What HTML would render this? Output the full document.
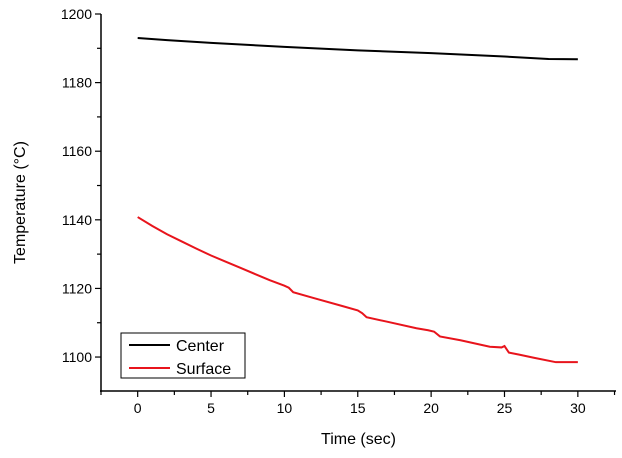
<!DOCTYPE html>
<html><head><meta charset="utf-8"><style>
body{margin:0;background:#fff;width:622px;height:453px;overflow:hidden}
text{font-family:"Liberation Sans",Arial,sans-serif;fill:#000}
</style></head><body>
<svg id="chart" width="622" height="453" xmlns="http://www.w3.org/2000/svg"></svg>
<script>
const xTicks=[0,5,10,15,20,25,30];
const yTicks=[1100,1120,1140,1160,1180,1200];
const timeC=[0,2,5,10,15,20,25,28,30];
const center=[1193,1192.4,1191.6,1190.4,1189.4,1188.6,1187.6,1186.9,1186.8];
const timeS=[0,1,2,3,4,5,6,7,8,9,10,10.3,10.6,12,14,15,15.3,15.6,17,19,19.8,20.2,20.6,22,24,24.8,25,25.3,26,27,28.5,30];
const surface=[1140.8,1138.2,1135.8,1133.7,1131.6,1129.6,1127.8,1126,1124.2,1122.4,1120.8,1120.2,1118.9,1117.2,1114.8,1113.6,1112.8,1111.6,1110.3,1108.4,1107.8,1107.4,1106,1104.9,1103,1102.8,1103.2,1101.3,1100.7,1099.8,1098.5,1098.5];
const X0=-2.5,X1=32.6,Y0=1090.1,Y1=1200;
const L=101,R=616,T=14,B=391;
const xs=v=>L+(v-X0)/(X1-X0)*(R-L);
const ys=v=>B-(v-Y0)/(Y1-Y0)*(B-T);
const svg=document.getElementById('chart');
const NS='http://www.w3.org/2000/svg';
function mk(t,a,p){const e=document.createElementNS(NS,t);for(const k in a)e.setAttribute(k,a[k]);(p||svg).appendChild(e);return e;}
let e;
e=mk('line',{x1:L,y1:T,x2:L,y2:B+1,stroke:'#000','stroke-width':1.5});


e=mk('line',{x1:L-1,y1:B,x2:R,y2:B,stroke:'#000','stroke-width':1.5});


xTicks.forEach(v=>{
 mk('line',{x1:xs(v),y1:B,x2:xs(v),y2:B+6,stroke:'#000','stroke-width':1.2});
 mk('line',{x1:xs(v+2.5),y1:B,x2:xs(v+2.5),y2:B+4,stroke:'#000','stroke-width':1.2});
 e=mk('text',{x:xs(v),y:B+22,'text-anchor':'middle','font-size':14});e.textContent=v;
 
 
});
mk('line',{x1:xs(-2.5),y1:B,x2:xs(-2.5),y2:B+4,stroke:'#000','stroke-width':1.2});
yTicks.forEach(v=>{
 mk('line',{x1:L-6,y1:ys(v),x2:L,y2:ys(v),stroke:'#000','stroke-width':1.2});
 if(v<1200)mk('line',{x1:L-4,y1:ys(v+10),x2:L,y2:ys(v+10),stroke:'#000','stroke-width':1.2});
 e=mk('text',{x:L-9,y:ys(v)+5,'text-anchor':'end','font-size':14});e.textContent=v;
 
 
});
e=mk('text',{x:(L+R)/2,y:444,'text-anchor':'middle','font-size':16});e.textContent='Time (sec)';


e=mk('text',{x:0,y:0,'text-anchor':'middle','font-size':16,transform:`translate(25,${(T+B)/2}) rotate(-90)`});e.textContent='Temperature (°C)';


e=mk('polyline',{points:timeC.map((t,i)=>xs(t)+','+ys(center[i])).join(' '),fill:'none',stroke:'#000','stroke-width':2});


e=mk('polyline',{points:timeS.map((t,i)=>xs(t)+','+ys(surface[i])).join(' '),fill:'none',stroke:'#e8141c','stroke-width':2});


const g=mk('g',{});


mk('rect',{x:121,y:333,width:124,height:45,fill:'#fff',stroke:'#000','stroke-width':1},g);
mk('line',{x1:129,y1:345,x2:170,y2:345,stroke:'#000','stroke-width':2},g);
mk('line',{x1:129,y1:368,x2:170,y2:368,stroke:'#e8141c','stroke-width':2},g);
e=mk('text',{x:176,y:351,'font-size':16},g);e.textContent='Center';


e=mk('text',{x:176,y:374,'font-size':16},g);e.textContent='Surface';


</script>
</body></html>
